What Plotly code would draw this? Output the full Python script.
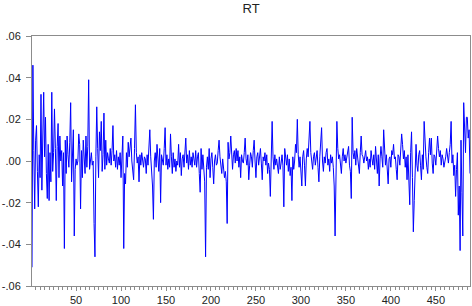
import plotly.graph_objects as go

title_text = "RT"
y_tick_vals = [0.06, 0.04, 0.02, 0.0, -0.02, -0.04, -0.06]
y_tick_text = [".06", ".04", ".02", ".00", "-.02", "-.04", "-.06"]
x_tick_vals = [50, 100, 150, 200, 250, 300, 350, 400, 450]

rt_1_92 = [
    -0.051, 0.046, 0.005, -0.023, 0.010, 0.017, -0.005, -0.022, 0.003, -0.008,
    0.032, -0.014, 0.012, 0.033, 0.002, 0.021, -0.006, -0.018, 0.008, -0.019,
    0.004, -0.010, 0.033, -0.005, 0.004, 0.025, 0.006, -0.019, 0.007, 0.018,
    -0.008, 0.012, 0.000, 0.005, -0.012, 0.004, -0.042, 0.010, -0.006, 0.012,
    0.003, -0.003, 0.009, 0.028, -0.010, 0.006, 0.015, -0.036, -0.004, 0.001,
    -0.002, 0.000, 0.013, 0.008, -0.023, 0.005, -0.008, 0.010, 0.002, -0.006,
    0.012, -0.003, 0.007, 0.039, -0.004, 0.001, 0.004, -0.002, 0.000, -0.030,
    -0.046, 0.002, 0.026, 0.006, -0.008, 0.014, 0.005, 0.019, -0.005, 0.003,
    0.023, -0.004, 0.010, -0.002, 0.004, 0.001, -0.001, 0.006, -0.002, 0.005,
    0.017, 0.000,
]
rt_93_188 = [
    0.003, -0.003, 0.005, -0.004, 0.002, -0.002, 0.004, -0.008, 0.001, 0.012,
    -0.042, -0.006, -0.011, 0.004, -0.003, 0.009, 0.002, 0.006, 0.011, 0.000,
    -0.004, -0.009, 0.006, 0.027, 0.004, -0.001, 0.002, -0.010, 0.003, -0.002,
    0.004, 0.000, -0.003, 0.002, 0.001, -0.006, 0.003, -0.002, 0.005, 0.015,
    0.002, -0.004, -0.012, -0.028, 0.000, 0.004, -0.003, 0.008, 0.002, -0.005,
    0.006, -0.020, 0.003, 0.000, -0.002, 0.006, 0.016, -0.002, 0.003, -0.004,
    0.001, -0.003, 0.013, 0.002, -0.006, 0.004, -0.003, 0.001, -0.005, 0.000,
    -0.002, 0.008, -0.003, 0.004, -0.007, 0.001, 0.003, -0.003, 0.002, 0.011,
    -0.001, 0.003, -0.004, 0.005, -0.002, 0.002, -0.003, 0.004, 0.001, -0.002,
    0.005, -0.003, 0.002, 0.004, -0.006, -0.015,
]
rt_189_281 = [
    0.006, -0.004, 0.003, -0.002, -0.010, -0.046, -0.003, 0.002, -0.004, 0.006,
    -0.008, 0.001, 0.004, -0.003, -0.011, 0.000, 0.003, -0.002, -0.001, 0.005,
    0.010, 0.002, -0.002, -0.006, 0.001, -0.003, -0.008, -0.005, -0.010, -0.030,
    0.009, 0.001, 0.004, 0.012, 0.000, -0.004, 0.003, 0.005, -0.001, 0.006,
    0.000, 0.005, -0.003, 0.002, -0.008, 0.003, 0.000, -0.001, 0.004, 0.011,
    0.001, -0.002, 0.003, -0.009, -0.002, 0.004, 0.002, -0.003, 0.005, 0.010,
    0.000, -0.008, 0.002, 0.004, -0.002, 0.003, 0.006, -0.001, -0.009, 0.002,
    0.000, 0.004, -0.002, 0.003, -0.006, -0.001, -0.004, -0.017, 0.006, 0.019,
    0.002, -0.004, 0.003, -0.002, 0.001, -0.003, -0.006, 0.002, -0.004, -0.001,
    0.003, -0.002, -0.022,
]
rt_282_376 = [
    0.006, 0.002, -0.002, 0.003, -0.005, 0.001, -0.007, -0.003, -0.019, 0.002,
    -0.004, 0.000, 0.008, 0.004, 0.020, 0.003, -0.003, 0.002, -0.007, -0.012,
    0.002, 0.005, -0.002, -0.012, 0.001, 0.006, 0.002, 0.008, 0.019, 0.004,
    0.001, -0.004, 0.002, 0.004, -0.002, 0.003, 0.005, -0.003, -0.010, 0.002,
    0.007, 0.016, 0.000, -0.005, 0.002, -0.001, 0.004, 0.006, -0.002, 0.001,
    -0.005, 0.003, -0.001, 0.002, -0.003, -0.012, -0.036, 0.005, 0.019, 0.006,
    0.001, 0.003, -0.002, -0.006, 0.002, 0.006, 0.000, 0.003, -0.001, 0.002,
    0.004, 0.007, -0.002, -0.005, -0.018, 0.021, 0.004, 0.001, 0.005, -0.002,
    0.006, 0.001, -0.003, -0.006, 0.004, 0.012, 0.003, 0.002, -0.001, 0.004,
    0.005, 0.000, 0.002, -0.004, 0.001,
]
rt_377_488 = [
    -0.003, 0.005, 0.001, -0.002, 0.003, -0.004, 0.007, 0.001, -0.006, 0.003,
    -0.012, 0.001, 0.007, 0.002, -0.003, 0.015, 0.004, -0.002, 0.003, -0.005,
    -0.011, 0.001, 0.002, -0.003, 0.005, 0.003, 0.008, 0.001, 0.002, -0.004,
    -0.009, 0.003, 0.002, -0.002, 0.006, 0.013, 0.008, 0.001, 0.005, -0.003,
    0.002, -0.009, 0.003, -0.006, -0.021, 0.004, 0.014, -0.008, -0.034, -0.019,
    0.002, 0.008, -0.002, -0.005, 0.003, 0.005, -0.002, -0.009, 0.003, -0.004,
    0.019, 0.006, 0.002, -0.003, -0.006, 0.004, 0.011, 0.003, 0.011, -0.001,
    -0.006, 0.003, 0.002, -0.002, 0.004, 0.012, 0.006, 0.002, 0.005, -0.002,
    0.003, 0.001, -0.003, -0.001, 0.002, 0.006, 0.000, -0.001, 0.004, 0.008,
    0.019, -0.001, 0.003, -0.007, -0.002, -0.017, -0.004, 0.004, -0.026, -0.012,
    -0.043, 0.010, -0.015, -0.036, 0.028, 0.011, 0.004, 0.021, 0.021, 0.011,
    0.015, -0.006,
]

rt = rt_1_92 + rt_93_188 + rt_189_281 + rt_282_376 + rt_377_488
obs = list(range(1, len(rt) + 1))

fig = go.Figure()
fig.add_trace(go.Scatter(
    x=obs, y=rt, mode="lines",
    line=dict(color="#0000ff", width=1),
    showlegend=False, hoverinfo="skip",
))

font_family = "Liberation Sans, Arial, sans-serif"
fig.update_layout(
    width=472, height=306,
    margin=dict(l=32, r=2, t=36, b=20, autoexpand=False),
    paper_bgcolor="white", plot_bgcolor="white",
    font=dict(family=font_family, size=11, color="#222222"),
    title=dict(text=title_text, x=0.532, xanchor="center",
               y=1 - 8.5 / 306, yanchor="middle", yref="container",
               font=dict(family=font_family, size=13, color="#222222")),
)
fig.update_xaxes(
    range=[1, len(rt)], tickmode="array", tickvals=x_tick_vals,
    showgrid=False, zeroline=False,
    showline=True, linecolor="#8c8c8c", linewidth=1, mirror=True,
    ticks="outside", ticklen=4, tickcolor="#8c8c8c", tickwidth=1,
    minor=dict(dtick=5, tick0=0, ticks="outside", ticklen=3, tickcolor="#8c8c8c"),
    tickfont=dict(size=11),
)
fig.update_yaxes(
    range=[-0.06, 0.06], tickmode="array", tickvals=y_tick_vals, ticktext=y_tick_text,
    showgrid=False, zeroline=False,
    showline=True, linecolor="#8c8c8c", linewidth=1, mirror=True,
    ticks="outside", ticklen=5, tickcolor="#8c8c8c", tickwidth=1,
    ticklabelstandoff=3,
    tickfont=dict(size=11),
)

fig.write_html("out.html", config={"displayModeBar": False},
               post_script="document.body.style.margin='0';")
